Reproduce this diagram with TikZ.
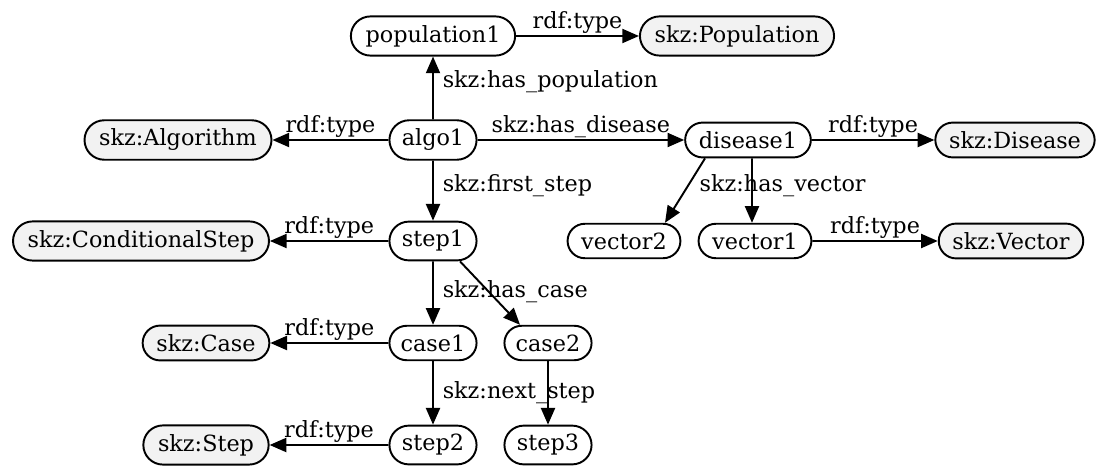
\documentclass[tikz,border=0pt]{standalone}
\usepackage{fontspec}
\setmainfont{DejaVu Serif}
\usetikzlibrary{arrows.meta,shapes.misc}
\definecolor{clsfill}{HTML}{F2F2F2}

\begin{document}
\begin{tikzpicture}[
  x=0.02cm,y=-0.02cm,
  ind/.style={rounded rectangle,draw,line width=1.1pt,minimum width=2.2cm,minimum height=0.6cm,
    inner xsep=6.5pt,inner ysep=5pt,font=\fontsize{12.7}{15}\selectfont},
  cls/.style={ind,fill=clsfill},
  lbl/.style={font=\fontsize{12.7}{15}\selectfont,inner sep=1pt},
  rel/.style={-{Triangle[length=9.5pt,width=8pt]},line width=1.1pt}
]
  \useasboundingbox (0,0) rectangle (1100,466);
  \node[ind] (pop) at (433,36) {population1};
  \node[cls] (Cpop) at (737,36) {skz:Population};
  \node[ind] (algo) at (433,140) {algo1};
  \node[cls] (Calgo) at (178,140) {skz:Algorithm};
  \node[ind] (dis) at (748,140) {disease1};
  \node[cls] (Cdis) at (1015,140) {skz:Disease};
  \node[ind] (step1) at (433,241) {step1};
  \node[cls] (Cstep1) at (141,241) {skz:ConditionalStep};
  \node[ind] (vec2) at (624,241) {vector2};
  \node[ind] (vec1) at (755,241) {vector1};
  \node[cls] (Cvec) at (1011,241) {skz:Vector};
  \node[ind] (case1) at (433,343) {case1};
  \node[ind] (case2) at (548,343) {case2};
  \node[cls] (Ccase) at (206,343) {skz:Case};
  \node[ind] (step2) at (433,445) {step2};
  \node[ind] (step3) at (548,445) {step3};
  \node[cls] (Cstep) at (206,445) {skz:Step};

  \draw[rel] (algo) -- node[lbl,anchor=west,pos=.6,xshift=4pt] {skz:has\_population} (pop);
  \draw[rel] (pop) -- node[lbl,above] {rdf:type} (Cpop);
  \draw[rel] (algo) -- node[lbl,above] {rdf:type} (Calgo);
  \draw[rel] (algo) -- node[lbl,above] {skz:has\_disease} (dis);
  \draw[rel] (dis) -- node[lbl,above] {rdf:type} (Cdis);
  \draw[rel] (algo) -- node[lbl,anchor=west,pos=.42,xshift=4pt] {skz:first\_step} (step1);
  \draw[rel] ([xshift=-0.86cm]dis.south) -- ([xshift=0.82cm]vec2.north);
  \draw[rel] ([xshift=0.08cm]dis.south) -- node[lbl,anchor=west,pos=.42,xshift=-1.1cm] {skz:has\_vector} ([xshift=-0.06cm]vec1.north);
  \draw[rel] (vec1) -- node[lbl,above] {rdf:type} (Cvec);
  \draw[rel] (step1) -- node[lbl,above] {rdf:type} (Cstep1);
  \draw[rel] (step1) -- node[lbl,anchor=west,pos=.48,xshift=4pt] {skz:has\_case} (case1);
  \draw[rel] ([xshift=0.54cm]step1.south) -- ([xshift=-0.56cm]case2.north);
  \draw[rel] (case1) -- node[lbl,above] {rdf:type} (Ccase);
  \draw[rel] (case1) -- node[lbl,anchor=west,pos=.49,xshift=4pt] {skz:next\_step} (step2);
  \draw[rel] (case2) -- (step3);
  \draw[rel] (step2) -- node[lbl,above] {rdf:type} (Cstep);
\end{tikzpicture}
\end{document}
